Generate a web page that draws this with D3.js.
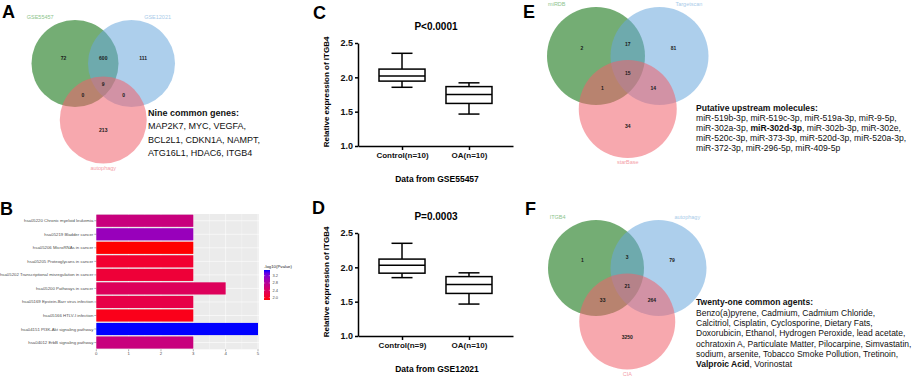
<!DOCTYPE html>
<html>
<head>
<meta charset="utf-8">
<script src="https://cdn.jsdelivr.net/npm/d3@7"></script>
<style>
    body { margin: 0; background: #fff; }
    svg { display: block; font-family: "Liberation Sans", Arial, Helvetica, sans-serif; }
</style>
</head>
<body>
<svg id="fig" width="913" height="379"></svg>
<script>
// ---------- data ----------
// venn counts order: only1, only2, only3, 1&2, 1&3, 2&3, all three
const vennASets = ["GSE55457", "GSE12021", "autophagy"];
const vennACounts = [72, 111, 213, 600, 0, 0, 9];
const vennESets = ["miRDB", "Targetscan", "starBase"];
const vennECounts = [2, 81, 34, 17, 1, 14, 15];
const vennFSets = ["ITGB4", "autophagy", "CIA"];
const vennFCounts = [1, 79, 3250, 3, 33, 264, 21];

const commonGenes = ["MAP2K7, MYC, VEGFA,", "BCL2L1, CDKN1A, NAMPT,", "ATG16L1, HDAC6, ITGB4"];
const upstreamMolecules = [
    [["miR-519b-3p, miR-519c-3p, miR-519a-3p, miR-9-5p,", false]],
    [["miR-302a-3p, ", false], ["miR-302d-3p", true], [", miR-302b-3p, miR-302e,", false]],
    [["miR-520c-3p, miR-373-3p, miR-520d-3p, miR-520a-3p,", false]],
    [["miR-372-3p, miR-296-5p, miR-409-5p", false]]
];
const commonAgents = [
    [["Benzo(a)pyrene, Cadmium, Cadmium Chloride,", false]],
    [["Calcitriol, Cisplatin, Cyclosporine, Dietary Fats,", false]],
    [["Doxorubicin, Ethanol, Hydrogen Peroxide, lead acetate,", false]],
    [["ochratoxin A, Particulate Matter, Pilocarpine, Simvastatin,", false]],
    [["sodium, arsenite, Tobacco Smoke Pollution, Tretinoin,", false]],
    [["Valproic Acid", true], [", Vorinostat", false]]
];

const keggTerms = [
    "hsa05220 Chronic myeloid leukemia",
    "hsa05219 Bladder cancer",
    "hsa05206 MicroRNAs in cancer",
    "hsa05205 Proteoglycans in cancer",
    "hsa05202 Transcriptional misregulation in cancer",
    "hsa05200 Pathways in cancer",
    "hsa05169 Epstein-Barr virus infection",
    "hsa05166 HTLV-I infection",
    "hsa04151 PI3K-Akt signaling pathway",
    "hsa04012 ErbB signaling pathway"
];
const keggCounts = [3, 3, 3, 3, 3, 4, 3, 3, 5, 3];
const keggLogP = [2.61, 3.05, 1.87, 2.07, 2.12, 2.36, 2.23, 1.95, 3.51, 2.61];
const keggTicks = [0, 1, 2, 3, 4, 5];
const legendTicks = [2.0, 2.4, 2.8, 3.2];

const boxGroupsC = ["Control(n=10)", "OA(n=10)"];
const boxStatsC = [[1.855, 1.945, 2.02, 2.12, 2.35], [1.465, 1.62, 1.75, 1.865, 1.92]];
const boxGroupsD = ["Control(n=9)", "OA(n=10)"];
const boxStatsD = [[1.85, 1.915, 2.03, 2.12, 2.35], [1.465, 1.62, 1.75, 1.865, 1.92]];
const boxTicks = [1.0, 1.5, 2.0, 2.5];

// ---------- drawing ----------
const svg = d3.select("#fig");

// panel letters
[["A", 2, 17.5], ["B", 0, 215], ["C", 313, 18.5], ["D", 312, 214], ["E", 523, 18], ["F", 525, 215]]
    .forEach(function (p) {
        svg.append("text").attr("x", p[1]).attr("y", p[2])
            .attr("font-size", 18).attr("font-weight", "bold").text(p[0]);
    });

function textBlock(x, y0, step, size, lines) {
    let t = svg.append("text").attr("font-size", size).attr("fill", "#111");
    lines.forEach(function (segs, i) {
        segs.forEach(function (s, j) {
            let sp = t.append("tspan").attr("font-weight", s[1] ? "bold" : "normal").text(s[0]);
            if (j === 0) sp.attr("x", x).attr("y", y0 + i * step);
        });
    });
}

const vennFill = ["#1f7a1f", "#6aa8dc", "#f0606c"];
const vennOpacity = [0.62, 0.55, 0.55];
const vennLabelColor = ["#8cc48c", "#a9cbe9", "#f4a0a8"];
const regionMasks = [[1, 0, 0], [0, 1, 0], [0, 0, 1], [1, 1, 0], [1, 0, 1], [0, 1, 1], [1, 1, 1]];

function drawVenn(sets, counts, geo) {
    let g = svg.append("g");
    let circles = [
        {x: geo.cx - geo.dx, y: geo.cy},
        {x: geo.cx + geo.dx, y: geo.cy},
        {x: geo.cx, y: geo.cy + geo.dy}
    ];
    g.selectAll("circle").data(circles).enter().append("circle")
        .attr("cx", d => d.x).attr("cy", d => d.y).attr("r", geo.r)
        .attr("fill", (d, i) => vennFill[i])
        .attr("fill-opacity", (d, i) => vennOpacity[i]);

    // label each region at its centroid (sampled)
    let inside = (px, py, c) => (px - c.x) ** 2 + (py - c.y) ** 2 <= geo.r * geo.r;
    let x0 = d3.min(circles, c => c.x) - geo.r, x1 = d3.max(circles, c => c.x) + geo.r;
    let y0 = d3.min(circles, c => c.y) - geo.r, y1 = d3.max(circles, c => c.y) + geo.r;
    let cents = regionMasks.map(function (m) {
        let sx = 0, sy = 0, n = 0;
        for (let px = x0; px <= x1; px += 0.5) {
            for (let py = y0; py <= y1; py += 0.5) {
                let ok = circles.every((c, i) => inside(px, py, c) === (m[i] === 1));
                if (ok) { sx += px; sy += py; n++; }
            }
        }
        return {x: sx / n, y: sy / n};
    });
    g.selectAll("text.count").data(counts).enter().append("text")
        .attr("class", "count")
        .attr("x", (d, i) => cents[i].x).attr("y", (d, i) => cents[i].y)
        .attr("text-anchor", "middle").attr("dominant-baseline", "central")
        .attr("font-size", 5).attr("font-weight", "bold").attr("fill", "#1a1a1a")
        .text(d => d);

    // set names
    let namePos = [
        {x: circles[0].x - 0.8 * geo.r, y: circles[0].y - 1.07 * geo.r},
        {x: circles[1].x + 0.6 * geo.r, y: circles[1].y - 1.07 * geo.r},
        {x: circles[2].x, y: circles[2].y + geo.r + 4}
    ];
    g.selectAll("text.set").data(sets).enter().append("text")
        .attr("class", "set")
        .attr("x", (d, i) => namePos[i].x).attr("y", (d, i) => namePos[i].y)
        .attr("text-anchor", "middle").attr("dominant-baseline", "central")
        .attr("font-size", 5.5).attr("fill", (d, i) => vennLabelColor[i])
        .text(d => d);
}

// A
drawVenn(vennASets, vennACounts, {cx: 103.25, cy: 63.5, r: 43.5, dx: 28.25, dy: 56.5});
textBlock(148, 116, 13.3, 9, [[["Nine common genes:", true]]].concat(commonGenes.map(s => [[s, false]])));

// E
drawVenn(vennESets, vennECounts, {cx: 627.75, cy: 56, r: 49, dx: 31.75, dy: 53});
textBlock(696, 111.4, 10, 8.6, [[["Putative upstream molecules:", true]]].concat(upstreamMolecules));

// F
drawVenn(vennFSets, vennFCounts, {cx: 627.25, cy: 268, r: 48, dx: 31.25, dy: 53.5});
textBlock(696, 305.4, 10.3, 8.5, [[["Twenty-one common agents:", true]]].concat(commonAgents));

// B - KEGG bar chart
(function () {
    let g = svg.append("g");
    let xScale = d3.scaleLinear().domain([0, 5]).range([96.3, 258]);
    let yScale = d3.scaleBand().domain(keggTerms).range([214, 349.3])
        .paddingInner(0.1).paddingOuter(0.05);
    let colorScale = d3.scaleLinear().domain([1.87, 3.51]).range(["#ff0000", "#0000ff"])
        .interpolate(d3.interpolateLab);

    g.append("rect").attr("x", xScale(0)).attr("y", 214)
        .attr("width", xScale(5) - xScale(0) + 1).attr("height", 135.3).attr("fill", "#ebebeb");
    g.selectAll("line.minor").data(d3.range(0.5, 5, 1)).enter().append("line")
        .attr("x1", d => xScale(d)).attr("x2", d => xScale(d)).attr("y1", 214).attr("y2", 349.3)
        .attr("stroke", "#fff").attr("stroke-width", 0.3);
    g.selectAll("line.majx").data(keggTicks).enter().append("line")
        .attr("x1", d => xScale(d)).attr("x2", d => xScale(d)).attr("y1", 214).attr("y2", 349.3)
        .attr("stroke", "#fff").attr("stroke-width", 0.6);
    g.selectAll("line.majy").data(keggTerms).enter().append("line")
        .attr("x1", xScale(0)).attr("x2", xScale(5) + 1)
        .attr("y1", d => yScale(d) + yScale.bandwidth() / 2)
        .attr("y2", d => yScale(d) + yScale.bandwidth() / 2)
        .attr("stroke", "#fff").attr("stroke-width", 0.6);

    g.selectAll("rect.bar").data(keggTerms).enter().append("rect")
        .attr("class", "bar")
        .attr("x", xScale(0)).attr("y", d => yScale(d))
        .attr("width", (d, i) => xScale(keggCounts[i]) - xScale(0))
        .attr("height", yScale.bandwidth())
        .attr("fill", (d, i) => colorScale(keggLogP[i]));

    // y labels
    g.selectAll("line.ytick").data(keggTerms).enter().append("line")
        .attr("x1", xScale(0) - 2).attr("x2", xScale(0))
        .attr("y1", d => yScale(d) + yScale.bandwidth() / 2)
        .attr("y2", d => yScale(d) + yScale.bandwidth() / 2)
        .attr("stroke", "#333").attr("stroke-width", 0.4);
    g.selectAll("text.ylab").data(keggTerms).enter().append("text")
        .attr("x", xScale(0) - 3).attr("y", d => yScale(d) + yScale.bandwidth() / 2)
        .attr("text-anchor", "end").attr("dominant-baseline", "central")
        .attr("font-size", 4.3).attr("fill", "#4d4d4d").text(d => d);
    // x ticks
    g.selectAll("line.xtick").data(keggTicks).enter().append("line")
        .attr("x1", d => xScale(d)).attr("x2", d => xScale(d)).attr("y1", 349.3).attr("y2", 351.3)
        .attr("stroke", "#333").attr("stroke-width", 0.4);
    g.selectAll("text.xlab").data(keggTicks).enter().append("text")
        .attr("x", d => xScale(d)).attr("y", 355)
        .attr("text-anchor", "middle").attr("font-size", 4.3).attr("fill", "#4d4d4d").text(d => d);

    // legend
    let ly = d3.scaleLinear().domain([1.87, 3.51]).range([300, 270]);
    let grad = svg.append("defs").append("linearGradient").attr("id", "lg")
        .attr("x1", 0).attr("y1", 1).attr("x2", 0).attr("y2", 0);
    d3.range(0, 1.01, 0.1).forEach(function (t) {
        grad.append("stop").attr("offset", t).attr("stop-color", colorScale(1.87 + t * (3.51 - 1.87)));
    });
    g.append("text").attr("x", 264).attr("y", 267.5).attr("font-size", 4.3).attr("fill", "#222")
        .text("-log10(Pvalue)");
    g.append("rect").attr("x", 264).attr("y", 270).attr("width", 6).attr("height", 30).attr("fill", "url(#lg)");
    g.selectAll("line.lt").data(legendTicks).enter().append("line")
        .attr("x1", 264).attr("x2", 270).attr("y1", d => ly(d)).attr("y2", d => ly(d))
        .attr("stroke", "#fff").attr("stroke-width", 0.4).attr("stroke-dasharray", "1.2,3.6");
    g.selectAll("text.lt").data(legendTicks).enter().append("text")
        .attr("x", 272.5).attr("y", d => ly(d)).attr("dominant-baseline", "central")
        .attr("font-size", 4).attr("fill", "#4d4d4d").text(d => d.toFixed(1));
})();

// C, D - box plots
function boxPanel(groups, stats, title, source, oy) {
    let g = svg.append("g").attr("transform", "translate(0," + oy + ")");
    let yScale = d3.scaleLinear().domain([1.0, 2.5]).range([146, 43]);
    let xScale = d3.scalePoint().domain(groups).range([358, 513]).padding(0.657);

    let boxes = g.selectAll("g.box").data(stats).enter().append("g")
        .attr("transform", (d, i) => "translate(" + xScale(groups[i]) + ",0)")
        .attr("stroke", "#000").attr("stroke-width", 1.5).attr("fill", "none");
    boxes.append("rect").attr("x", -23).attr("width", 46)
        .attr("y", d => yScale(d[3])).attr("height", d => yScale(d[1]) - yScale(d[3]));
    boxes.append("line").attr("x1", -23).attr("x2", 23)
        .attr("y1", d => yScale(d[2])).attr("y2", d => yScale(d[2]));
    boxes.append("line").attr("x1", 0).attr("x2", 0)
        .attr("y1", d => yScale(d[3])).attr("y2", d => yScale(d[4]));
    boxes.append("line").attr("x1", 0).attr("x2", 0)
        .attr("y1", d => yScale(d[1])).attr("y2", d => yScale(d[0]));
    boxes.append("line").attr("x1", -10.5).attr("x2", 10.5)
        .attr("y1", d => yScale(d[4])).attr("y2", d => yScale(d[4]));
    boxes.append("line").attr("x1", -10.5).attr("x2", 10.5)
        .attr("y1", d => yScale(d[0])).attr("y2", d => yScale(d[0]));

    let yAxis = g.append("g").attr("transform", "translate(358,0)")
        .call(d3.axisLeft(yScale).tickValues(boxTicks).tickFormat(d3.format(".1f"))
            .tickSize(3).tickPadding(2).tickSizeOuter(0));
    let xAxis = g.append("g").attr("transform", "translate(0,146)")
        .call(d3.axisBottom(xScale).tickSize(4).tickPadding(2).tickSizeOuter(0));
    [yAxis, xAxis].forEach(function (ax) {
        ax.select(".domain").attr("stroke-width", 1.5);
        ax.selectAll(".tick line").attr("stroke-width", 1.5);
        ax.selectAll("text").attr("font-family", null).attr("font-weight", "bold").attr("fill", "#111");
    });
    yAxis.selectAll("text").attr("font-size", 9);
    xAxis.selectAll("text").attr("font-size", 8);
    yAxis.attr("font-family", null);
    xAxis.attr("font-family", null);

    g.append("text").attr("x", 436).attr("y", 30).attr("text-anchor", "middle")
        .attr("font-size", 10).attr("font-weight", "bold").text(title);
    g.append("text").attr("transform", "translate(328.5,92) rotate(-90)").attr("text-anchor", "middle")
        .attr("font-size", 8).attr("font-weight", "bold").text("Relative expression of ITGB4");
    g.append("text").attr("x", 437).attr("y", 182).attr("text-anchor", "middle")
        .attr("font-size", 8.5).attr("font-weight", "bold").text(source);
}
boxPanel(boxGroupsC, boxStatsC, "P<0.0001", "Data from GSE55457", 0);
boxPanel(boxGroupsD, boxStatsD, "P=0.0003", "Data from GSE12021", 190);
</script>
</body>
</html>
